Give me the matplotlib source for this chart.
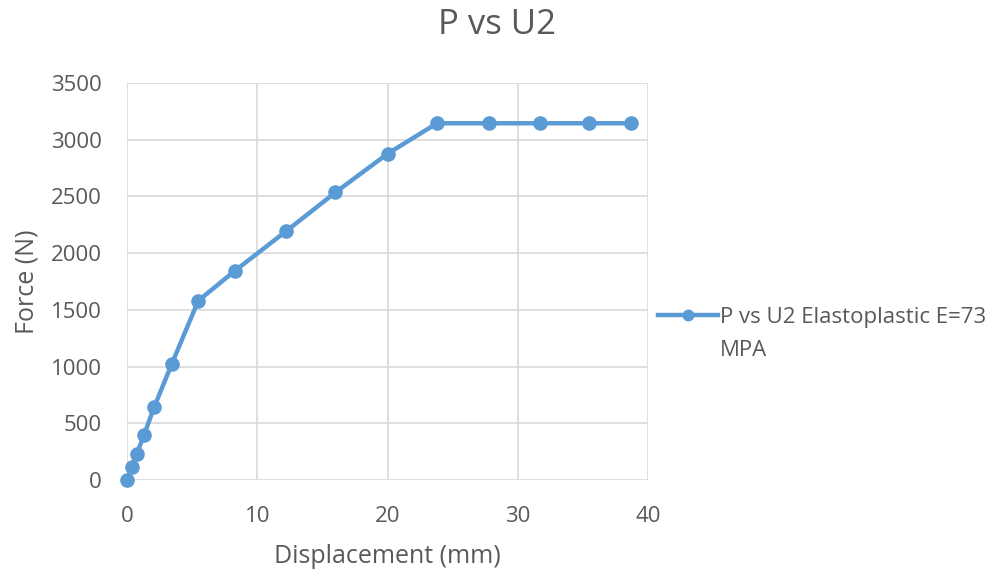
import matplotlib
matplotlib.use("Agg")
import matplotlib.pyplot as plt

# Force-displacement curve, elastoplastic model
disp_mm = [0.0, 0.36, 0.74, 1.31, 2.09, 3.43, 5.47, 8.3, 12.2, 16.0, 20.0, 23.8, 27.8, 31.7, 35.5, 38.7]
force_n = [0, 114, 229, 397, 644, 1021, 1580, 1846, 2192, 2535, 2876, 3145, 3145, 3145, 3145, 3145]

x_ticks = [0, 10, 20, 30, 40]
y_ticks = [0, 500, 1000, 1500, 2000, 2500, 3000, 3500]

TEXT = "#595959"
GRID = "#d9d9d9"
BLUE = "#5b9bd5"

plt.rcParams['font.family'] = ['Open Sans', 'DejaVu Sans']

W, H = 1006, 578
fig = plt.figure(figsize=(W / 100, H / 100), dpi=100)
ax = fig.add_axes([127 / W, 98 / H, 521 / W, 397 / H])

ax.plot(disp_mm, force_n, color=BLUE, lw=3.2, marker="o", ms=9.5,
        label="P vs U2 Elastoplastic E=73", clip_on=False, zorder=3)

ax.set_xlim(0, 40)
ax.set_ylim(0, 3500)
ax.set_xticks(x_ticks)
ax.set_yticks(y_ticks)
ax.grid(True, color=GRID, lw=1.2)
ax.set_axisbelow(True)
for s in ax.spines.values():
    s.set_visible(False)
ax.tick_params(length=0, labelsize=16, labelcolor=TEXT)
ax.tick_params(axis="x", pad=19)
ax.tick_params(axis="y", pad=18)

ax.set_xlabel("Displacement (mm)", fontsize=18, color=TEXT, labelpad=12)
ax.set_ylabel("Force (N)", fontsize=18, color=TEXT, labelpad=8)
fig.text(0.494, 0.957, "P vs U2", fontsize=25, color=TEXT, ha="center", va="center")

leg = ax.legend(loc="center left", bbox_to_anchor=(658 / W, (H - 317) / H),
                bbox_transform=fig.transFigure, frameon=False, fontsize=16,
                handlelength=2.7, handletextpad=0.1, borderaxespad=0, borderpad=0)
for t in leg.get_texts():
    t.set_color(TEXT)
leg.legend_handles[0].set_markersize(7.5)

# second line of the legend entry, under the first
fig.canvas.draw()
bb = leg.get_texts()[0].get_window_extent()
fig.text(bb.x0 / W, (bb.y0 - 34) / H, "MPA",
         fontsize=16, color=TEXT, ha="left", va="bottom")

fig.savefig("out.png", dpi=100)
